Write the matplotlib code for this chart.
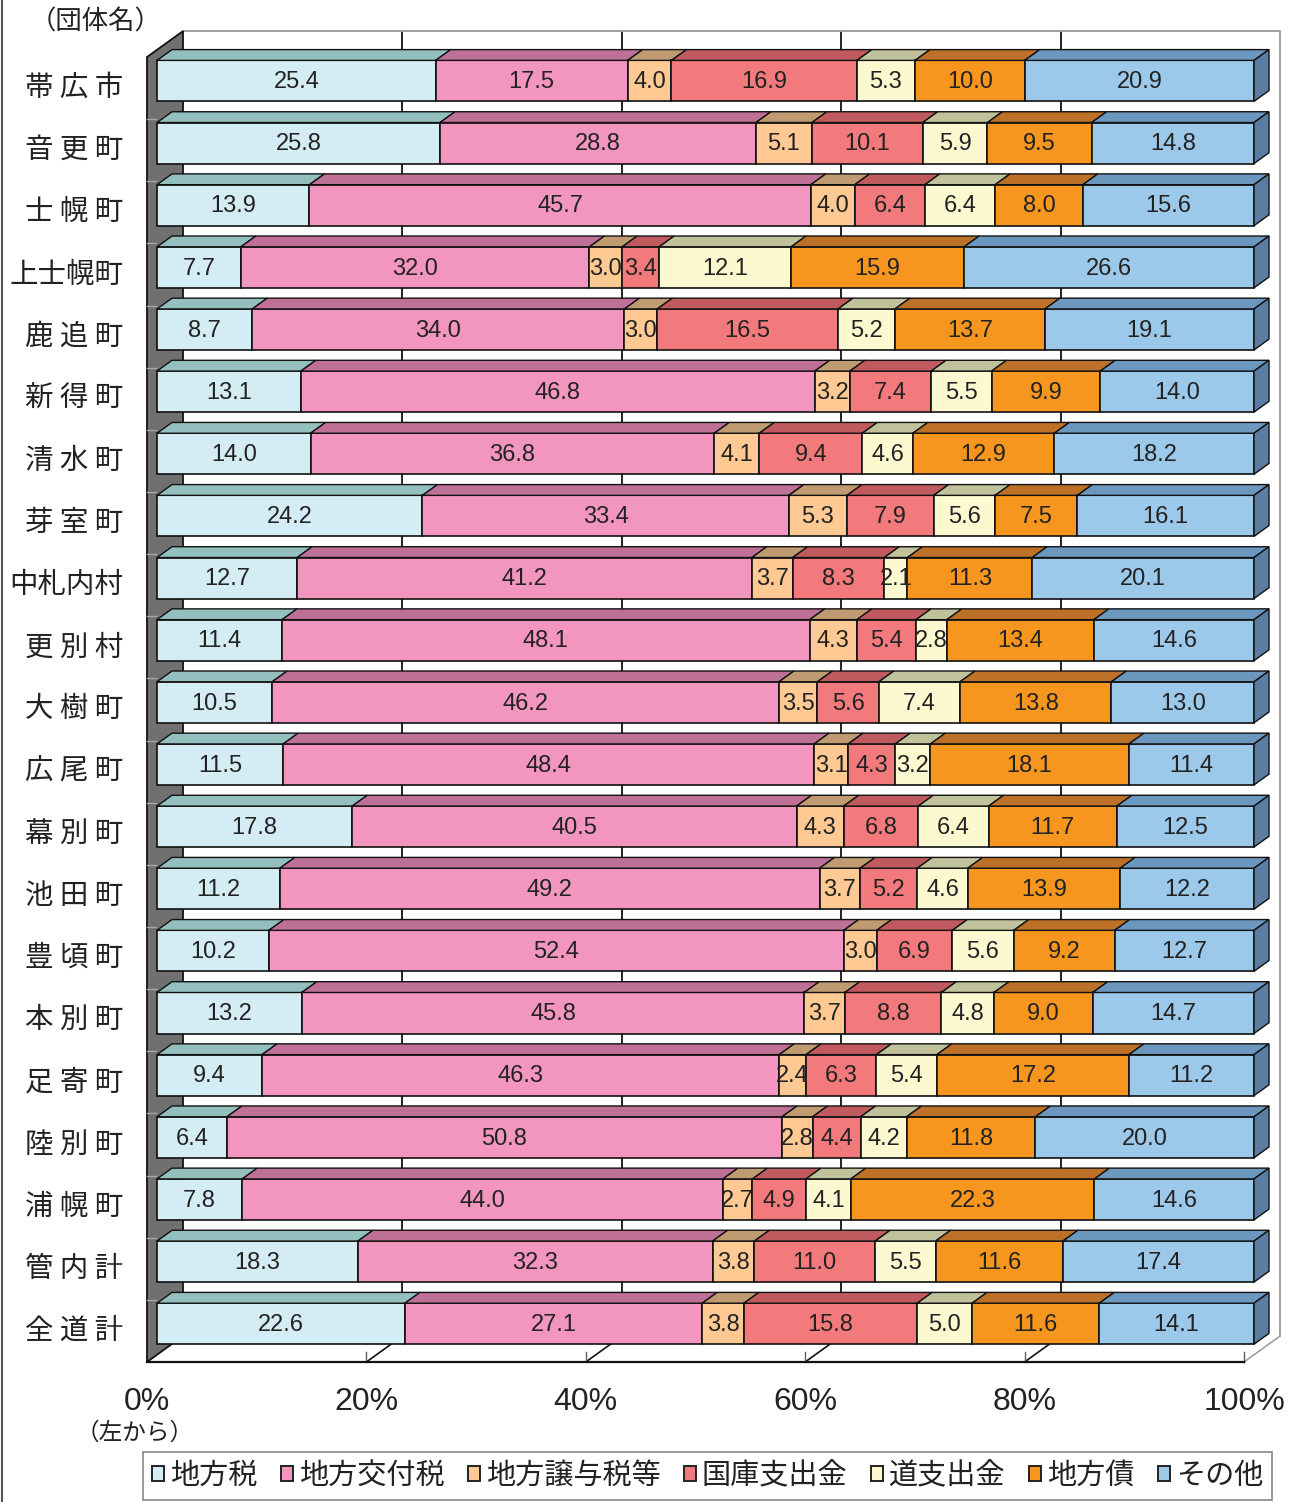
import numpy as np
import matplotlib
matplotlib.use('Agg')
import matplotlib.pyplot as plt
from matplotlib.patches import Polygon, Patch
from matplotlib.lines import Line2D

# data (percent, left to right)
cities = ['帯 広 市', '音 更 町', '士 幌 町', '上士幌町', '鹿 追 町', '新 得 町', '清 水 町',
          '芽 室 町', '中札内村', '更 別 村', '大 樹 町', '広 尾 町', '幕 別 町', '池 田 町',
          '豊 頃 町', '本 別 町', '足 寄 町', '陸 別 町', '浦 幌 町', '管 内 計', '全 道 計']
series = ['地方税', '地方交付税', '地方譲与税等', '国庫支出金', '道支出金', '地方債', 'その他']

chihouzei = [25.4, 25.8, 13.9, 7.7, 8.7, 13.1, 14.0, 24.2, 12.7, 11.4, 10.5, 11.5, 17.8, 11.2,
             10.2, 13.2, 9.4, 6.4, 7.8, 18.3, 22.6]
koufuzei = [17.5, 28.8, 45.7, 32.0, 34.0, 46.8, 36.8, 33.4, 41.2, 48.1, 46.2, 48.4, 40.5, 49.2,
            52.4, 45.8, 46.3, 50.8, 44.0, 32.3, 27.1]
jouyozei = [4.0, 5.1, 4.0, 3.0, 3.0, 3.2, 4.1, 5.3, 3.7, 4.3, 3.5, 3.1, 4.3, 3.7,
            3.0, 3.7, 2.4, 2.8, 2.7, 3.8, 3.8]
kokko = [16.9, 10.1, 6.4, 3.4, 16.5, 7.4, 9.4, 7.9, 8.3, 5.4, 5.6, 4.3, 6.8, 5.2,
         6.9, 8.8, 6.3, 4.4, 4.9, 11.0, 15.8]
doushishutsu = [5.3, 5.9, 6.4, 12.1, 5.2, 5.5, 4.6, 5.6, 2.1, 2.8, 7.4, 3.2, 6.4, 4.6,
                5.6, 4.8, 5.4, 4.2, 4.1, 5.5, 5.0]
chihousai = [10.0, 9.5, 8.0, 15.9, 13.7, 9.9, 12.9, 7.5, 11.3, 13.4, 13.8, 18.1, 11.7, 13.9,
             9.2, 9.0, 17.2, 11.8, 22.3, 11.6, 11.6]
sonota = [20.9, 14.8, 15.6, 26.6, 19.1, 14.0, 18.2, 16.1, 20.1, 14.6, 13.0, 11.4, 12.5, 12.2,
          12.7, 14.7, 11.2, 20.0, 14.6, 17.4, 14.1]
xticks = [0, 20, 40, 60, 80, 100]

front_colors = ['#D4ECF3', '#F296C0', '#FFC993', '#F27A7C', '#FCF8D0', '#F7961E', '#9CC8EA']
top_colors = ['#93C0BE', '#BF7096', '#C09A70', '#C05A5E', '#BFC29A', '#BD7028', '#6C98C0']
side_color = '#5B7CA3'

CJK = ['Noto Sans CJK JP', 'DejaVu Sans']
NUM = ['Liberation Sans Narrow', 'Liberation Sans', 'DejaVu Sans']

W, H = 1289, 1502
fig = plt.figure(figsize=(W / 100, H / 100), dpi=100)
ax = fig.add_axes([0, 0, 1, 1])

# pixel scale of the bar front plane
PX_X = 1097 / 100.0   # px per percent
PX_Y = 62.14          # px per row
X0, Y0 = 157, 80.9
ax.set_xlim(-X0 / PX_X, (W - X0) / PX_X)
ax.set_ylim((H - Y0) / PX_Y, -Y0 / PX_Y)
ax.axis('off')

SLOPE = 0.72


def shift(x, y, d):
    # move a point d px along the depth direction
    return x + d / PX_X, y - d * SLOPE / PX_Y


def row_px(px):
    return (px - Y0) / PX_Y


n = len(cities)
D_FRONT, D_BACK = -10, 26
BAR_D = 15
top, bot = -0.5, n - 0.5

# back wall
bw = [shift(0, top, D_BACK), shift(100, top, D_BACK), shift(100, bot, D_BACK), shift(0, bot, D_BACK)]
ax.add_patch(Polygon(bw, closed=True, facecolor='white', edgecolor='none', zorder=1))
for p in xticks[1:-1]:
    x1, y1 = shift(p, top, D_BACK)
    x2, y2 = shift(p, bot, D_BACK)
    ax.plot([x1, x2], [y1, y2], color='#111111', lw=1.3, zorder=1.5)
ax.plot([bw[0][0], bw[1][0], bw[2][0]], [bw[0][1], bw[1][1], bw[2][1]], color='#A0A0A0', lw=1.4, zorder=1.5)

# floor
fl = [shift(0, bot, D_FRONT), shift(100, bot, D_FRONT), shift(100, bot, D_BACK), shift(0, bot, D_BACK)]
ax.add_patch(Polygon(fl, closed=True, facecolor='white', edgecolor='none', zorder=2))
for p in xticks[1:]:
    x1, y1 = shift(p, bot, D_FRONT)
    x2, y2 = shift(p, bot, D_BACK)
    c = '#A0A0A0' if p == 100 else '#111111'
    ax.plot([x1, x2], [y1, y2], color=c, lw=1.2, zorder=2.2)
    ax.plot([x1, x1], [y1, y1 - 10 / PX_Y], color='#606060', lw=1.0, zorder=2.2)
ax.plot([fl[0][0], fl[1][0]], [fl[0][1], fl[1][1]], color='#111111', lw=1.6, zorder=2.3)

# left wall
lw_ = [shift(0, top, D_FRONT), shift(0, top, D_BACK), shift(0, bot, D_BACK), shift(0, bot, D_FRONT)]
ax.add_patch(Polygon(lw_, closed=True, facecolor='#707070', edgecolor='#111111', lw=1.3, zorder=2.5))
for k in range(1, n):
    x1, y1 = shift(0, k - 0.5, D_FRONT)
    ax.plot([x1, x1 + 9 / PX_X], [y1, y1], color='#A8A8A8', lw=1.0, zorder=2.6)

# bars
vals = np.array([chihouzei, koufuzei, jouyozei, kokko, doushishutsu, chihousai, sonota])
shares = vals / vals.sum(axis=0) * 100
ypos = np.arange(n)
bh = 41 / PX_Y
left = np.zeros(n)
for j in range(len(series)):
    ax.barh(ypos, shares[j], left=left, height=bh, color=front_colors[j],
            edgecolor='#111111', linewidth=1.2, zorder=3)
    for i in range(n):
        l, r = left[i], left[i] + shares[j][i]
        yt = i - bh / 2
        poly = [(l, yt), (r, yt), shift(r, yt, BAR_D), shift(l, yt, BAR_D)]
        ax.add_patch(Polygon(poly, closed=True, facecolor=top_colors[j], edgecolor='#111111',
                             lw=1.0, zorder=3))
        ax.text((l + r) / 2, i + 0.02, f'{vals[j][i]:.1f}', ha='center', va='center',
                fontsize=17, family=NUM, color='#222222', zorder=5)
    left = left + shares[j]

for i in range(n):
    yt, yb = i - bh / 2, i + bh / 2
    side = [(100, yt), shift(100, yt, BAR_D), shift(100, yb, BAR_D), (100, yb)]
    ax.add_patch(Polygon(side, closed=True, facecolor=side_color, edgecolor='#111111', lw=1.0, zorder=3))

# category labels
for i, name in enumerate(cities):
    ax.text((123 - X0) / PX_X, shift(0, i, D_FRONT)[1], name, ha='right', va='center',
            fontsize=20.5, family=CJK, color='#222222')

# x tick labels
for p in xticks:
    ax.text(shift(p, 0, D_FRONT)[0], row_px(1402), f'{p}%', ha='center', va='center',
            fontsize=23, family=NUM, color='#222222')

ax.text((96 - X0) / PX_X, row_px(22), '（団体名）', ha='center', va='center',
        fontsize=19, family=CJK, color='#222222')
ax.text((135 - X0) / PX_X, row_px(1433), '（左から）', ha='center', va='center',
        fontsize=17, family=CJK, color='#222222')

# left border line of the original frame
fig.add_artist(Line2D([1.5 / W, 1.5 / W], [0, 1], color='#555555', lw=1.5))

handles = [Patch(facecolor=c, edgecolor='#222222', lw=1.4) for c in front_colors]
leg = fig.legend(handles, series, ncol=7, loc='center', bbox_to_anchor=((140 + 1275) / 2 / W, 1 - 1476 / H),
                 prop={'family': CJK, 'size': 21}, handlelength=0.42, handleheight=0.42,
                 handletextpad=0.2, columnspacing=0.8, borderpad=0.3, fancybox=False,
                 frameon=True, edgecolor='#888888', framealpha=1)
leg.get_frame().set_linewidth(1.2)
for t in leg.get_texts():
    t.set_color('#222222')

fig.savefig('out.png', dpi=100)
